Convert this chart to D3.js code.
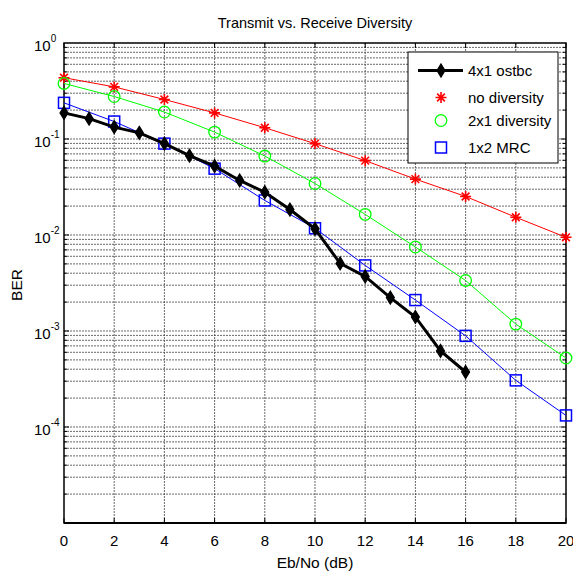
<!DOCTYPE html>
<html>
<head>
<meta charset="utf-8">
<script src="https://cdn.jsdelivr.net/npm/d3@7"></script>
<style>
  body { margin: 0; background: #fff; }
  svg text { font-family: "Liberation Sans", Arial, sans-serif; fill: #000; }
</style>
</head>
<body>
<svg id="chart" width="573" height="572"></svg>
<script>
// data
const ebnoEven = [0, 2, 4, 6, 8, 10, 12, 14, 16, 18, 20];
const ebnoAll = [0, 1, 2, 3, 4, 5, 6, 7, 8, 9, 10, 11, 12, 13, 14, 15, 16];
const berOstbc = [0.187, 0.163, 0.133, 0.116, 0.0895, 0.067, 0.0522, 0.037, 0.0279, 0.0184, 0.0116, 0.00506, 0.0037, 0.00223, 0.0014, 0.00062, 0.000374];
const berNoDiv = [0.435, 0.349, 0.258, 0.187, 0.131, 0.0895, 0.0595, 0.0382, 0.0252, 0.0153, 0.00946];
const berDiv21 = [0.379, 0.277, 0.191, 0.118, 0.0664, 0.0344, 0.0164, 0.0075, 0.00336, 0.00118, 0.000523];
const berMrc = [0.238, 0.152, 0.0895, 0.0491, 0.0229, 0.01175, 0.00482, 0.0021, 0.00089, 0.000306, 0.000132];
const xTicks = [0, 2, 4, 6, 8, 10, 12, 14, 16, 18, 20];
const yDecades = [0, -1, -2, -3, -4];
const legendLabels = ["4x1 ostbc", "no diversity", "2x1 diversity", "1x2 MRC"];

const L = 64, R = 566, T = 43, B = 523;
const svg = d3.select("#chart");

const x = d3.scaleLinear().domain([0, 20]).range([L, R]);
const y = d3.scaleLog().domain([1e-5, 1]).range([B, T]);

// grid lines (major + minor), dotted like matlab
const grid = svg.append("g").attr("stroke", "#444").attr("stroke-opacity", 0.8)
  .attr("stroke-dasharray", "2,1").attr("stroke-width", 1);
xTicks.forEach(v => {
  if (v === 0 || v === 20) return;
  grid.append("line").attr("x1", x(v)).attr("x2", x(v)).attr("y1", T).attr("y2", B);
});
const minorY = [];
for (let e = -5; e < 0; e++) for (let m = 1; m < 10; m++) minorY.push(m * Math.pow(10, e));
minorY.forEach(v => {
  if (v <= 1e-5 + 1e-12) return;
  grid.append("line").attr("x1", L).attr("x2", R).attr("y1", y(v)).attr("y2", y(v));
});

// tick marks inside frame
const ticks = svg.append("g").attr("stroke", "#000").attr("stroke-width", 1);
xTicks.forEach(v => {
  ticks.append("line").attr("x1", x(v)).attr("x2", x(v)).attr("y1", B).attr("y2", B - 5);
  ticks.append("line").attr("x1", x(v)).attr("x2", x(v)).attr("y1", T).attr("y2", T + 5);
});
minorY.forEach(v => {
  const len = Math.abs(Math.log10(v) - Math.round(Math.log10(v))) < 1e-9 ? 5 : 3;
  ticks.append("line").attr("x1", L).attr("x2", L + len).attr("y1", y(v)).attr("y2", y(v));
  ticks.append("line").attr("x1", R).attr("x2", R - len).attr("y1", y(v)).attr("y2", y(v));
});

// frame
svg.append("rect").attr("x", L).attr("y", T).attr("width", R - L).attr("height", B - T)
  .attr("fill", "none").attr("stroke", "#000").attr("stroke-width", 1.5);
svg.append("line").attr("x1", L).attr("x2", R).attr("y1", B).attr("y2", B)
  .attr("stroke", "#000").attr("stroke-width", 2);

// x tick labels
xTicks.forEach(v => {
  svg.append("text").attr("x", x(v)).attr("y", B + 23).attr("text-anchor", "middle")
    .attr("font-size", 15).text(v);
});
// y tick labels 10^e
yDecades.forEach(e => {
  const t = svg.append("text").attr("x", 34).attr("y", y(Math.pow(10, e)) + 8)
    .attr("font-size", 15);
  t.append("tspan").text("10");
  t.append("tspan").attr("dy", -9).attr("font-size", 10).text(e);
});

// titles
svg.append("text").attr("x", (L + R) / 2).attr("y", 28).attr("text-anchor", "middle")
  .attr("font-size", 14.5).text("Transmit vs. Receive Diversity");
svg.append("text").attr("x", (L + R) / 2).attr("y", 568).attr("text-anchor", "middle")
  .attr("font-size", 15.5).text("Eb/No (dB)");
svg.append("text").attr("transform", "translate(22,285) rotate(-90)").attr("text-anchor", "middle")
  .attr("font-size", 15.5).text("BER");

// marker helpers
function star(g, cx, cy, c) {
  const s = 5.5;
  g.append("path").attr("d",
    `M${cx - s},${cy}H${cx + s}M${cx},${cy - s}V${cy + s}` +
    `M${cx - s * 0.7},${cy - s * 0.7}L${cx + s * 0.7},${cy + s * 0.7}` +
    `M${cx - s * 0.7},${cy + s * 0.7}L${cx + s * 0.7},${cy - s * 0.7}`)
    .attr("stroke", c).attr("stroke-width", 1.6).attr("fill", "none");
}
function diamond(g, cx, cy) {
  const w = 4, h = 6.5;
  g.append("path").attr("d", `M${cx},${cy - h}L${cx + w},${cy}L${cx},${cy + h}L${cx - w},${cy}Z`)
    .attr("fill", "#000").attr("stroke", "#000").attr("stroke-width", 1.2);
}
function circle(g, cx, cy) {
  g.append("circle").attr("cx", cx).attr("cy", cy).attr("r", 5.8)
    .attr("fill", "none").attr("stroke", "#00ff00").attr("stroke-width", 1.3);
}
function square(g, cx, cy) {
  g.append("rect").attr("x", cx - 5.5).attr("y", cy - 5.5).attr("width", 11).attr("height", 11)
    .attr("fill", "none").attr("stroke", "#0000ff").attr("stroke-width", 1.5);
}

const line = d3.line().x(d => x(d[0])).y(d => y(d[1]));
const plot = svg.append("g");

function series(xs, ys, color, width, marker) {
  const pts = xs.map((v, i) => [v, ys[i]]);
  plot.append("path").attr("d", line(pts)).attr("fill", "none")
    .attr("stroke", color).attr("stroke-width", width);
  const mg = plot.append("g");
  pts.forEach(p => marker(mg, x(p[0]), y(p[1]), color));
}

series(ebnoEven, berNoDiv, "#ff0000", 1, star);
series(ebnoEven, berDiv21, "#00ff00", 1, circle);
series(ebnoEven, berMrc, "#0000ff", 1, square);
series(ebnoAll, berOstbc, "#000", 3, diamond);

// legend
const lg = svg.append("g");
lg.append("rect").attr("x", 408).attr("y", 52).attr("width", 150).attr("height", 111)
  .attr("fill", "#fff").attr("stroke", "#000").attr("stroke-width", 1);
const rowsY = [70.5, 97.5, 120.5, 147.5];
lg.append("line").attr("x1", 418).attr("x2", 463).attr("y1", rowsY[0]).attr("y2", rowsY[0])
  .attr("stroke", "#000").attr("stroke-width", 3);
diamond(lg, 441, rowsY[0]);
star(lg, 441, rowsY[1], "#ff0000");
circle(lg, 441, rowsY[2]);
square(lg, 441, rowsY[3]);
legendLabels.forEach((t, i) => {
  lg.append("text").attr("x", 468).attr("y", rowsY[i] + 5.5).attr("font-size", 15).text(t);
});
</script>
</body>
</html>
